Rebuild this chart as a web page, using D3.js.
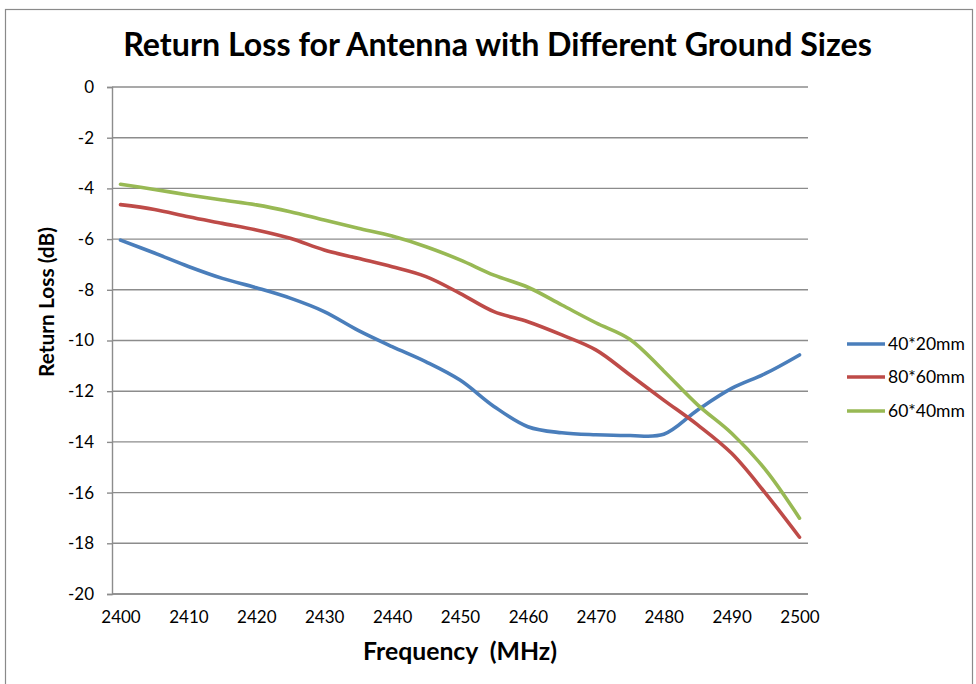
<!DOCTYPE html>
<html>
<head>
<meta charset="utf-8">
<script src="https://cdn.jsdelivr.net/npm/d3@7"></script>
<style>
  html, body { margin: 0; padding: 0; background: #fff; }
  svg { display: block; }
  text { font-family: Lato, "Open Sans", sans-serif; }
</style>
</head>
<body>
<svg id="chart" width="976" height="684"></svg>
<script>
const titleText = "Return Loss for Antenna with Different Ground Sizes";
const xTitle = "Frequency  (MHz)";
const yTitle = "Return Loss (dB)";

const frequencies = [2400, 2405, 2410, 2415, 2420, 2425, 2430, 2435, 2440, 2445, 2450,
                     2455, 2460, 2465, 2470, 2475, 2480, 2485, 2490, 2495, 2500];
const s40x20 = [-6.04, -6.55, -7.08, -7.55, -7.92, -8.33, -8.86, -9.6, -10.24, -10.84, -11.56,
                -12.6, -13.4, -13.64, -13.72, -13.75, -13.7, -12.74, -11.89, -11.3, -10.57];
const s80x60 = [-4.64, -4.83, -5.12, -5.38, -5.64, -5.97, -6.43, -6.76, -7.09, -7.48, -8.14,
                -8.86, -9.26, -9.78, -10.37, -11.35, -12.35, -13.33, -14.45, -16.03, -17.76];
const s60x40 = [-3.84, -4.04, -4.26, -4.46, -4.65, -4.92, -5.25, -5.57, -5.88, -6.3, -6.82,
                -7.42, -7.9, -8.6, -9.3, -9.95, -11.2, -12.54, -13.66, -15.1, -17.01];

const seriesNames = ["40*20mm", "80*60mm", "60*40mm"];
const seriesColors = ["#4A7EBB", "#BE4B48", "#98B954"];
const seriesValues = [s40x20, s80x60, s60x40];

const xTicks = [2400, 2410, 2420, 2430, 2440, 2450, 2460, 2470, 2480, 2490, 2500];
const yTicks = [0, -2, -4, -6, -8, -10, -12, -14, -16, -18, -20];

const svg = d3.select("#chart");
const plot = { left: 112, right: 808, top: 87, bottom: 594 };

// outer chart border
svg.append("rect")
  .attr("x", 5.5).attr("y", 9.5).attr("width", 967).attr("height", 690)
  .attr("fill", "#fff").attr("stroke", "#8a8a8a").attr("stroke-width", 1.2);

const x = d3.scaleLinear().domain([2398.75, 2501.25]).range([plot.left, plot.right]);
const y = d3.scaleLinear().domain([-20, 0]).range([plot.bottom, plot.top]);

// gridlines
svg.append("g").selectAll("line").data(yTicks).join("line")
  .attr("x1", plot.left).attr("x2", plot.right)
  .attr("y1", d => y(d)).attr("y2", d => y(d))
  .attr("stroke", "#8c8c8c").attr("stroke-width", 1.4);

const fmt = d => String(d);

// y axis
const yAxis = svg.append("g").attr("transform", `translate(${plot.left},0)`)
  .call(d3.axisLeft(y).tickValues(yTicks).tickSize(5).tickPadding(13).tickFormat(fmt));
yAxis.select(".domain").attr("stroke", "#8c8c8c").attr("stroke-width", 1.4);
yAxis.selectAll(".tick line").attr("stroke", "#8c8c8c").attr("stroke-width", 1.4);
yAxis.selectAll("text").attr("font-size", 17).attr("fill", "#000")
  .style("font-family", "Lato, 'Open Sans', sans-serif");

// x axis
const xAxis = svg.append("g").attr("transform", `translate(0,${plot.bottom})`)
  .call(d3.axisBottom(x).tickValues(xTicks).tickSize(0).tickPadding(17).tickFormat(fmt));
xAxis.select(".domain").attr("stroke", "#8c8c8c").attr("stroke-width", 1.4)
  .attr("d", `M${plot.left},0H${plot.right}`);
xAxis.selectAll("text").attr("font-size", 17).attr("fill", "#000")
  .style("font-family", "Lato, 'Open Sans', sans-serif");

// lines
const line = d3.line()
  .x((d, i) => x(frequencies[i]))
  .y(d => y(d))
  .curve(d3.curveCatmullRom.alpha(0.5));

svg.append("g").selectAll("path").data(seriesValues).join("path")
  .attr("d", d => line(d))
  .attr("fill", "none")
  .attr("stroke", (d, i) => seriesColors[i])
  .attr("stroke-width", 3.6)
  .attr("stroke-linecap", "round")
  .attr("stroke-linejoin", "round");

// title
function fitText(sel, targetWidth) {
  const w = sel.node().getComputedTextLength();
  const fs = parseFloat(sel.attr("font-size"));
  sel.attr("font-size", fs * targetWidth / w);
}
const title = svg.append("text")
  .attr("x", 497.5).attr("y", 56).attr("text-anchor", "middle")
  .attr("font-size", 30).attr("font-weight", "bold").attr("fill", "#000")
  .text(titleText);
fitText(title, 749);

const xt = svg.append("text")
  .attr("x", (plot.left + plot.right) / 2).attr("y", 660).attr("text-anchor", "middle")
  .attr("font-size", 20).attr("font-weight", "bold").attr("fill", "#000")
  .attr("xml:space", "preserve").style("white-space", "pre")
  .text(xTitle);
fitText(xt, 194);

const yt = svg.append("text")
  .attr("transform", `translate(54,302) rotate(-90)`)
  .attr("text-anchor", "middle")
  .attr("font-size", 20).attr("font-weight", "bold").attr("fill", "#000")
  .text(yTitle);
fitText(yt, 150);

// legend
const legendRows = [344, 377, 411];
const lg = svg.append("g");
seriesNames.forEach((name, i) => {
  lg.append("line")
    .attr("x1", 847).attr("x2", 885)
    .attr("y1", legendRows[i]).attr("y2", legendRows[i])
    .attr("stroke", seriesColors[i]).attr("stroke-width", 3.6);
  lg.append("text")
    .attr("x", 888).attr("y", legendRows[i]).attr("dy", "0.35em")
    .attr("font-size", 17.5).attr("fill", "#000")
    .text(name);
});
</script>
</body>
</html>
